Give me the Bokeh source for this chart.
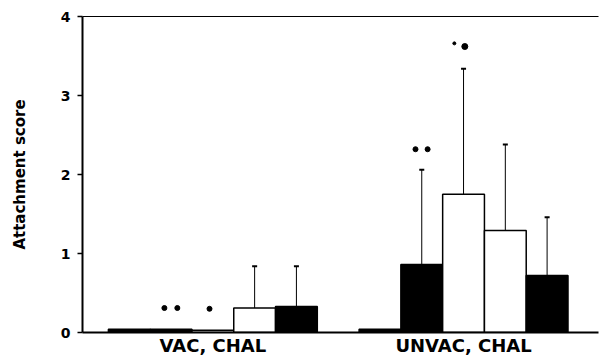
from bokeh.plotting import figure
from bokeh.models import FixedTicker, LinearAxis, Range1d, ColumnDataSource
from bokeh.embed import file_html
from bokeh.resources import INLINE

# ---- data ----
groups = ["VAC, CHAL", "UNVAC, CHAL"]
bar_colors = ["black", "black", "white", "white", "black"]
vac_means = [0.04, 0.04, 0.03, 0.31, 0.33]
vac_err_top = [None, None, None, 0.84, 0.84]
unvac_means = [0.04, 0.86, 1.75, 1.29, 0.72]
unvac_err_top = [None, 2.06, 3.34, 2.38, 1.46]
# significance dots: (group, bar index in group, height)
sig_group = [0, 0, 0, 1, 1, 1, 1]
sig_bar = [1, 1, 2, 1, 1, 2, 2]
sig_shift = [-0.16, 0.15, -0.08, -0.15, 0.14, -0.22, 0.03]
sig_y = [0.31, 0.31, 0.30, 2.32, 2.32, 3.66, 3.62]
sig_size = [5, 5, 5, 5, 5, 3, 6]
y_ticks = [0, 1, 2, 3, 4]

n = len(bar_colors)
group_start = [0, n + 1]

xs, tops, cols = [], [], []
ex, etop, ebot = [], [], []
for g, (means, errs) in enumerate([(vac_means, vac_err_top), (unvac_means, unvac_err_top)]):
    for i in range(n):
        x = group_start[g] + i
        xs.append(x)
        tops.append(means[i])
        cols.append(bar_colors[i])
        if errs[i] is not None:
            ex.append(x)
            etop.append(errs[i])
            ebot.append(means[i])

p = figure(width=600, height=358, output_backend="svg", toolbar_location=None,
           x_range=Range1d(-1.12, 11.23), y_range=Range1d(0, 4),
           min_border_left=82, min_border_top=16, min_border_bottom=25, min_border_right=2)
p.grid.visible = False
p.outline_line_color = None
p.background_fill_color = "white"

# error bars
p.segment(x0=ex, x1=ex, y0=ebot, y1=etop, line_color="black", line_width=1)
p.segment(x0=[x - 0.06 for x in ex], x1=[x + 0.06 for x in ex], y0=etop, y1=etop,
          line_color="black", line_width=2)

# bars
src = ColumnDataSource(dict(x=xs, top=tops, color=cols))
p.vbar(x="x", top="top", bottom=0, width=1.0, fill_color="color", line_color="black",
       line_width=1.5, source=src)

# significance dots
dx = [group_start[g] + b + s for g, b, s in zip(sig_group, sig_bar, sig_shift)]
p.scatter(x=dx, y=sig_y, size=sig_size, marker="circle", fill_color="black", line_color="black")

# y axis
p.yaxis.ticker = FixedTicker(ticks=y_ticks)
p.yaxis.minor_tick_line_color = None
p.yaxis.major_tick_out = 5
p.yaxis.major_tick_in = 0
p.yaxis.major_label_standoff = 7
p.yaxis.major_label_text_font = "DejaVu Sans"
p.yaxis.major_label_text_font_style = "bold"
p.yaxis.major_label_text_font_size = "14px"
p.yaxis.major_label_text_color = "black"
p.yaxis.axis_line_width = 2
p.yaxis.major_tick_line_width = 1.5
p.yaxis.axis_label = "Attachment score"
p.yaxis.axis_label_text_font = "DejaVu Sans"
p.yaxis.axis_label_text_font_style = "bold"
p.yaxis.axis_label_text_font_size = "15px"
p.yaxis.axis_label_text_color = "black"
p.yaxis.axis_label_standoff = 29

# x axis
centers = [gs + (n - 1) / 2 for gs in group_start]
p.xaxis.ticker = FixedTicker(ticks=centers)
p.xaxis.major_label_overrides = {c: g for c, g in zip(centers, groups)}
p.xaxis.major_tick_line_color = None
p.xaxis.minor_tick_line_color = None
p.xaxis.major_tick_out = 0
p.xaxis.major_label_standoff = 2
p.xaxis.major_label_text_font = "DejaVu Sans"
p.xaxis.major_label_text_font_style = "bold"
p.xaxis.major_label_text_font_size = "18px"
p.xaxis.major_label_text_color = "black"
p.xaxis.major_label_text_line_height = 1.0
p.xaxis.axis_line_width = 2

# top border line
top_axis = LinearAxis(ticker=FixedTicker(ticks=[]), major_label_text_font_size="0px",
                      axis_line_width=1, major_tick_line_color=None, minor_tick_line_color=None)
p.add_layout(top_axis, "above")

open("out.html", "w").write(file_html(p, INLINE))
